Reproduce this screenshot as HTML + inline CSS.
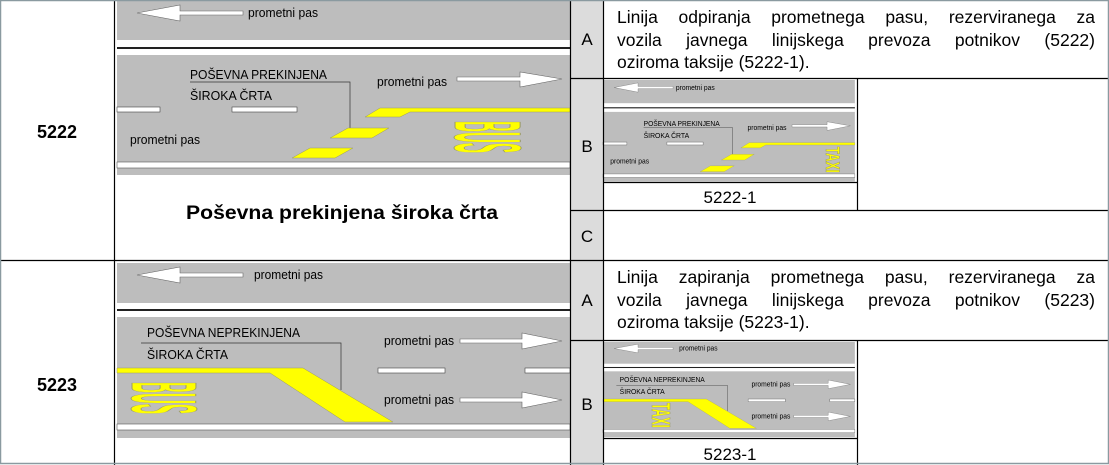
<!DOCTYPE html>
<html><head><meta charset="utf-8"><style>
body{margin:0;background:#fff}
svg{display:block}
text{font-family:"Liberation Sans",Arial,sans-serif}
.l{position:absolute;left:617px;width:478px;font:17.5px/22px "Liberation Sans",Arial,sans-serif;text-align:justify;text-align-last:justify;color:#000;white-space:nowrap}
.l.e{text-align-last:left}
</style></head><body>
<div style="position:relative;width:1109px;height:465px;overflow:hidden">
<svg width="1109" height="465" viewBox="0 0 1109 465">
<defs>
<g id="r1">
<rect x="117" y="0" width="453" height="175" fill="#bdbdbd"/>
<rect x="117" y="40" width="453" height="7" fill="#fff"/>
<rect x="117" y="47" width="453" height="2" fill="#222"/>
<rect x="117" y="49" width="453" height="6" fill="#fff"/>
<rect x="117" y="162" width="453" height="6" fill="#fff" stroke="#555" stroke-width=".6"/>
<polygon points="137,13 180,5 180,11 243,11 243,15 180,15 180,21" fill="#fff" stroke="#666" stroke-width=".6"/>
<text x="248" y="17" font-size="13" textLength="70" lengthAdjust="spacingAndGlyphs">prometni pas</text>
<text x="190" y="79" font-size="13" textLength="137" lengthAdjust="spacingAndGlyphs">POŠEVNA PREKINJENA</text>
<polyline points="190,82 350,82 350,134" fill="none" stroke="#333" stroke-width=".7"/>
<text x="190" y="100" font-size="13" textLength="82" lengthAdjust="spacingAndGlyphs">ŠIROKA ČRTA</text>
<text x="377" y="86" font-size="13" textLength="70" lengthAdjust="spacingAndGlyphs">prometni pas</text>
<polygon points="457,77 520,77 520,72 562,79 520,87 520,81 457,81" fill="#fff" stroke="#666" stroke-width=".6"/>
<rect x="117" y="107" width="43" height="5" fill="#fff" stroke="#444" stroke-width=".6"/>
<rect x="232" y="107" width="65" height="5" fill="#fff" stroke="#444" stroke-width=".6"/>
<polygon points="365,117 380,108 570,108 570,112 410,112 400,117" fill="#ff0" stroke="#996" stroke-width=".5"/>
<polygon points="330,138 348,128 389,128 372,138" fill="#ff0" stroke="#996" stroke-width=".5"/>
<polygon points="292,158 310,148 353,148 335,158" fill="#ff0" stroke="#996" stroke-width=".5"/>
<text x="130" y="144" font-size="13" textLength="70" lengthAdjust="spacingAndGlyphs">prometni pas</text>
</g>
<g id="r2">
<rect x="117" y="263" width="453" height="175" fill="#bdbdbd"/>
<rect x="117" y="303" width="453" height="6" fill="#fff"/>
<rect x="117" y="309" width="453" height="2" fill="#222"/>
<rect x="117" y="311" width="453" height="6" fill="#fff"/>
<rect x="117" y="424" width="453" height="6" fill="#fff" stroke="#555" stroke-width=".6"/>
<polygon points="137,275 180,267 180,273 243,273 243,277 180,277 180,283" fill="#fff" stroke="#666" stroke-width=".6"/>
<text x="254" y="279" font-size="13" textLength="69" lengthAdjust="spacingAndGlyphs">prometni pas</text>
<text x="147" y="337" font-size="13" textLength="153" lengthAdjust="spacingAndGlyphs">POŠEVNA NEPREKINJENA</text>
<polyline points="141,343 341,343 341,390" fill="none" stroke="#333" stroke-width=".7"/>
<text x="147" y="359" font-size="13" textLength="81" lengthAdjust="spacingAndGlyphs">ŠIROKA ČRTA</text>
<polygon points="117,368 303,368 393,422 345,422 270,373 117,373" fill="#ff0" stroke="#996" stroke-width=".5"/>
<text x="384" y="345" font-size="13" textLength="70" lengthAdjust="spacingAndGlyphs">prometni pas</text>
<polygon points="460,339 522,339 522,333 562,341 522,349 522,343 460,343" fill="#fff" stroke="#666" stroke-width=".6"/>
<text x="384" y="404" font-size="13" textLength="70" lengthAdjust="spacingAndGlyphs">prometni pas</text>
<polygon points="460,398 522,398 522,392 562,400 522,408 522,402 460,402" fill="#fff" stroke="#666" stroke-width=".6"/>
<rect x="378" y="368" width="67" height="5" fill="#fff" stroke="#444" stroke-width=".6"/>
<rect x="525" y="368" width="45" height="5" fill="#fff" stroke="#444" stroke-width=".6"/>
</g>
</defs>
<rect x="570" y="0" width="33" height="465" fill="#dcdcdc"/>
<use href="#r1"/>
<text transform="translate(455,121) rotate(90)" x="0" y="0" font-size="95" font-weight="bold" fill="#ff0" stroke="#996" stroke-width="1" textLength="32" lengthAdjust="spacingAndGlyphs">BUS</text>
<use href="#r2"/>
<text transform="translate(132,382) rotate(90)" x="0" y="0" font-size="93" font-weight="bold" fill="#ff0" stroke="#996" stroke-width="1" textLength="32" lengthAdjust="spacingAndGlyphs">BUS</text>
<g transform="translate(603,80) scale(.556,.58) translate(-117,0)">
<use href="#r1"/>
<text transform="translate(518,115) rotate(90)" x="0" y="0" font-size="35" font-weight="bold" fill="#ff0" stroke="#996" stroke-width="1" textLength="45" lengthAdjust="spacingAndGlyphs">TAXI</text>
</g>
<g transform="translate(603,342) scale(.556,.543) translate(-117,-263)">
<use href="#r2"/>
<text transform="translate(205,375) rotate(90)" x="0" y="0" font-size="47" font-weight="bold" fill="#ff0" stroke="#996" stroke-width="1" textLength="46" lengthAdjust="spacingAndGlyphs">TAXI</text>
</g>
<text x="186" y="219" font-size="19" font-weight="bold" textLength="312" lengthAdjust="spacingAndGlyphs">Poševna prekinjena široka črta</text>
<text x="57" y="138" font-size="18" font-weight="bold" text-anchor="middle">5222</text>
<text x="57" y="391" font-size="18" font-weight="bold" text-anchor="middle">5223</text>
<text x="587" y="45" font-size="17" text-anchor="middle">A</text>
<text x="587" y="152" font-size="17" text-anchor="middle">B</text>
<text x="587" y="242" font-size="17" text-anchor="middle">C</text>
<text x="587" y="306" font-size="17" text-anchor="middle">A</text>
<text x="587" y="410" font-size="17" text-anchor="middle">B</text>
<text x="730" y="203" font-size="17" text-anchor="middle">5222-1</text>
<text x="730" y="460" font-size="17" text-anchor="middle">5223-1</text>
<g stroke="#000" stroke-width="1.2" fill="none">
<line x1="114.5" y1="0" x2="114.5" y2="465"/>
<line x1="570.5" y1="0" x2="570.5" y2="465"/>
<line x1="603.5" y1="0" x2="603.5" y2="465"/>
<line x1="0" y1="260.5" x2="1109" y2="260.5"/>
<line x1="570" y1="78.5" x2="1109" y2="78.5"/>
<line x1="570" y1="210.5" x2="1109" y2="210.5"/>
<line x1="570" y1="340.5" x2="1109" y2="340.5"/>
<line x1="603" y1="182.5" x2="857" y2="182.5"/>
<line x1="857.5" y1="78" x2="857.5" y2="210"/>
<line x1="603" y1="438.5" x2="857" y2="438.5"/>
<line x1="857.5" y1="340" x2="857.5" y2="465"/>
</g>
<rect x="0.5" y="0.5" width="1108" height="463" fill="none" stroke="#8a9aa0" stroke-width="1.5"/>
</svg>
<div class="l" style="top:6px">Linija odpiranja prometnega pasu, rezerviranega za</div>
<div class="l" style="top:29px">vozila javnega linijskega prevoza potnikov (5222)</div>
<div class="l e" style="top:51px">oziroma taksije (5222-1).</div>
<div class="l" style="top:266px">Linija zapiranja prometnega pasu, rezerviranega za</div>
<div class="l" style="top:289px">vozila javnega linijskega prevoza potnikov (5223)</div>
<div class="l e" style="top:311px">oziroma taksije (5223-1).</div>
</div>
</body></html>
